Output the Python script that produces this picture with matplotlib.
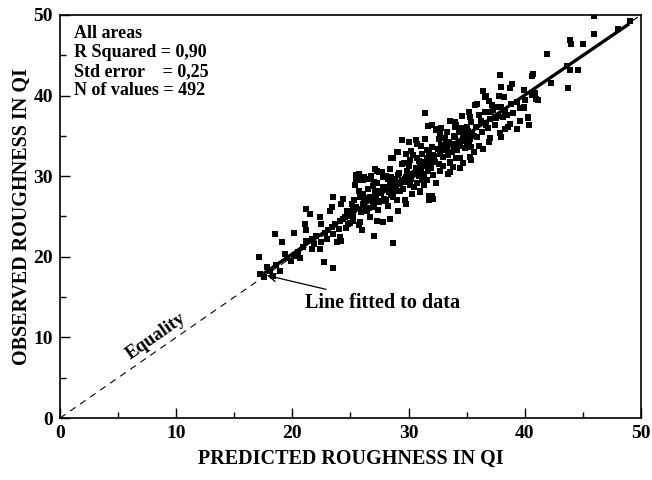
import matplotlib.pyplot as plt
from matplotlib.ticker import MultipleLocator

plt.rcParams['font.family'] = ['Liberation Serif', 'DejaVu Serif']
plt.rcParams['font.weight'] = 'bold'

# predicted / observed roughness (QI)
pred = [17.2, 17.1, 17.8, 18.1, 18.9, 18.5, 19.1, 19.4, 20.1, 19.9, 20.7, 20.1, 21.2, 21.1, 21.2,
        21.7, 21.9, 20.9, 21.7, 22.4, 22.5, 22.7, 23.5, 21.2, 21.5, 22.4, 22.5, 23.5, 23.4, 23.2,
        23.7, 23.4, 23.1, 23.5, 23.8, 18.6, 19.5, 20.5, 22.0, 22.8, 23.0, 17.6, 18.3,
        24.4, 24.2, 25.1, 25.2, 24.5, 24.1, 24.8, 24.0, 24.1, 24.2, 25.7, 26.0, 27.0, 25.7, 26.2,
        26.8, 25.8, 25.4, 25.7, 26.1, 26.5, 26.7, 27.0, 25.8, 26.2, 26.8, 26.1, 25.5, 26.4, 27.0,
        27.5, 24.7, 25.0, 24.4, 25.2, 25.8, 26.7, 27.3, 27.8, 25.5, 26.0, 26.5, 25.5, 26.1, 26.7,
        27.3, 27.7, 27.1, 27.5, 27.8, 27.3, 27.8, 25.2, 25.9, 26.3, 26.9, 27.2, 27.6, 26.6, 25.0,
        24.6, 27.9, 27.4, 26.9, 25.3,
        28.4, 28.5, 29.1, 29.7, 30.3, 30.8, 28.4, 29.0, 29.5, 30.1, 30.7, 31.3, 31.0, 32.0, 31.8,
        29.7, 29.8, 29.1, 28.1, 28.7, 28.4, 28.7, 29.4, 30.0, 30.6, 30.7, 31.1, 31.6, 32.0, 29.1,
        28.7, 29.8, 30.1, 30.7, 31.0, 31.6, 29.4, 29.8, 30.4, 28.5, 29.0, 31.6, 32.1, 31.8, 32.1,
        31.0, 31.4, 31.7, 28.3, 28.9, 29.3, 29.9, 30.2, 30.6, 31.1, 31.5, 31.9, 28.6, 29.2, 30.0,
        30.9, 31.3, 31.8, 28.2, 29.6, 30.4, 31.2, 31.9,
        32.4, 32.7, 33.3, 34.0, 34.3, 35.0, 32.1, 32.7, 33.3, 33.9, 34.4, 34.1, 33.6, 33.4, 32.7,
        32.1, 32.4, 32.0, 34.0, 34.1, 35.3, 35.4, 33.3, 33.1, 34.9, 35.0, 35.4, 35.6, 35.4, 34.4,
        34.7, 33.6, 33.8, 35.3, 35.7, 35.9, 32.5, 33.0, 33.5, 34.0, 34.6, 35.1, 35.6, 32.3, 32.8,
        33.2, 33.7, 34.2, 34.8, 35.3, 35.8, 32.6, 33.9, 34.5, 35.2, 33.0, 34.9,
        36.1, 36.6, 37.2, 37.3, 37.6, 36.4, 36.6, 36.7, 37.9, 38.9, 38.7, 38.0, 38.2, 39.9, 41.0,
        39.6, 39.9, 38.7, 38.6, 39.6, 40.4, 40.3, 39.3, 37.9, 38.0, 38.3, 36.9, 37.0, 36.1, 36.4,
        36.5, 37.0, 37.7, 38.3, 38.8, 39.3, 36.3, 36.8, 37.4, 38.1, 39.0, 40.0, 40.6, 39.9, 40.3,
        40.7, 40.6, 40.9, 41.1,
        41.9, 43.9, 44.0, 45.0, 43.6, 43.9, 44.6, 43.7, 46.0, 46.0, 49.1, 48.0, 42.3,
        26.3, 26.8, 27.1, 27.7, 28.0, 28.5, 28.8, 29.3, 29.6, 30.1, 30.5, 30.9, 31.4, 31.7, 32.2,
        32.6, 32.9, 33.4, 33.8, 34.3, 34.7, 35.0, 35.5, 35.9, 36.2, 36.7, 37.1, 37.5, 38.0, 38.5,
        27.4, 28.2, 29.0, 30.3, 31.2, 32.4, 33.6, 34.4, 27.0, 28.1, 29.4, 30.2, 31.4, 32.8, 33.6,
        34.6, 35.2, 36.9, 37.8]
obs = [17.9, 20.0, 18.7, 18.3, 18.3, 22.8, 21.8, 20.4, 20.1, 19.5, 19.9, 23.0, 23.3, 24.1, 22.0,
       22.2, 21.6, 21.2, 21.0, 21.0, 21.8, 19.3, 18.6, 25.9, 25.3, 24.9, 24.1, 27.4, 26.2, 25.7,
       24.1, 23.7, 23.3, 22.8, 21.8, 19.0, 19.8, 20.6, 22.6, 22.9, 22.2, 17.5, 17.6,
       27.2, 26.6, 26.6, 25.9, 24.9, 24.5, 24.1, 23.5, 22.4, 22.0, 23.9, 23.3, 22.6, 30.3, 29.9,
       30.0, 29.5, 28.9, 28.2, 27.8, 28.4, 27.4, 26.8, 27.4, 27.0, 27.4, 26.6, 26.2, 25.7, 26.2,
       26.8, 25.7, 25.1, 24.7, 24.5, 24.3, 24.9, 24.5, 24.3, 30.1, 29.7, 29.7, 29.5, 29.5, 29.7,
       30.7, 30.5, 30.9, 30.5, 29.9, 29.1, 28.6, 25.0, 25.6, 26.1, 26.5, 27.6, 27.9, 26.0, 24.2,
       23.6, 27.2, 28.2, 28.8, 27.1,
       30.9, 29.9, 30.1, 29.7, 30.1, 30.5, 29.1, 28.2, 28.4, 28.9, 29.1, 28.9, 28.0, 27.6, 27.0,
       27.0, 26.6, 25.7, 27.0, 27.4, 24.7, 21.7, 34.5, 34.2, 34.5, 34.0, 33.8, 33.2, 33.6, 33.0,
       32.2, 32.8, 32.0, 32.2, 31.6, 32.2, 29.5, 29.9, 30.3, 32.2, 33.0, 29.5, 30.1, 27.6, 27.2,
       28.2, 37.8, 36.2, 28.0, 28.9, 29.0, 30.6, 29.6, 31.0, 30.8, 31.2, 31.6, 28.4, 30.4, 31.3,
       31.9, 30.3, 32.9, 29.6, 31.6, 32.6, 32.8, 31.0,
       35.7, 35.3, 35.5, 36.1, 35.5, 36.1, 32.6, 32.8, 33.2, 33.6, 34.0, 32.2, 31.6, 30.3, 30.7,
       30.1, 35.9, 36.3, 36.7, 36.3, 37.3, 36.7, 35.5, 34.7, 35.5, 35.1, 33.6, 33.0, 32.0, 32.2,
       31.6, 31.8, 31.1, 32.4, 38.8, 39.0, 33.4, 32.4, 34.2, 34.8, 34.4, 35.6, 35.0, 31.8, 33.9,
       34.0, 33.0, 33.2, 35.0, 34.6, 36.1, 34.6, 35.0, 36.0, 33.9, 31.2, 33.5,
       37.6, 38.0, 38.8, 38.2, 38.6, 40.5, 39.8, 40.0, 42.6, 41.4, 40.9, 41.1, 39.8, 40.7, 39.6,
       38.4, 38.6, 36.5, 36.1, 36.9, 36.3, 37.2, 35.9, 35.3, 34.9, 35.9, 34.2, 34.7, 33.8, 33.4,
       36.6, 37.1, 37.5, 38.0, 38.9, 39.2, 35.5, 36.0, 36.4, 37.3, 37.8, 39.5, 40.1, 38.4, 37.3,
       42.7, 42.4, 40.3, 39.5,
       45.1, 46.9, 46.4, 46.4, 43.6, 43.2, 43.2, 40.9, 49.8, 47.6, 49.3, 48.2, 41.6,
       27.3, 27.1, 28.0, 26.9, 28.6, 27.7, 29.6, 28.1, 29.3, 29.9, 28.6, 30.0, 31.8, 30.6, 32.1,
       31.5, 33.2, 32.6, 34.0, 33.8, 34.9, 34.2, 35.4, 34.8, 36.8, 36.3, 37.9, 37.2, 38.6, 37.6,
       25.8, 26.3, 27.1, 27.8, 29.5, 29.2, 30.5, 31.0, 29.3, 30.0, 31.5, 33.1, 34.6, 36.0, 36.9,
       37.4, 37.9, 39.3, 40.0]

fit_x = [17.5, 49.0]
fit_y = [17.9, 48.9]
equality = [0, 50]

fig = plt.figure(figsize=(6.52, 4.80), dpi=100)
ax = fig.add_axes([0.092, 0.129, 0.891, 0.840])

ax.plot(equality, equality, color='black', lw=0.8, ls=(0, (6, 5)))
ax.plot(fit_x, fit_y, color='black', lw=2.4, solid_capstyle='butt')
ax.scatter(pred, obs, marker='s', s=13, color='black', linewidths=0, zorder=3)

ax.set_xlim(0, 50)
ax.set_ylim(0, 50)
ax.xaxis.set_major_locator(MultipleLocator(10))
ax.xaxis.set_minor_locator(MultipleLocator(5))
ax.yaxis.set_major_locator(MultipleLocator(10))
ax.yaxis.set_minor_locator(MultipleLocator(5))
ax.tick_params(which='both', direction='in', top=False, right=False, labelsize=14, width=1)
ax.tick_params(which='major', length=7, pad=5)
ax.tick_params(which='minor', length=4)
for s in ax.spines.values():
    s.set_linewidth(1.2)

ax.set_xlabel('PREDICTED ROUGHNESS IN QI', fontsize=14.5, fontweight='bold', labelpad=5)
ax.set_ylabel('OBSERVED ROUGHNESS IN QI', fontsize=14.5, fontweight='bold', labelpad=1)

box = ['All areas', 'R Squared = 0,90', 'Std error    = 0,25', 'N of values = 492']
for i, line in enumerate(box):
    ax.text(0.024, 0.953 - i * 0.047, line, transform=ax.transAxes, fontsize=13,
            fontweight='bold', va='center', ha='left')

ax.text(8.3, 10.1, 'Equality', rotation=35, fontsize=13.5, fontweight='bold',
        ha='center', va='center', rotation_mode='anchor')
ax.annotate('Line fitted to data', xy=(17.8, 17.7), xytext=(21.1, 14.3),
            fontsize=14.5, fontweight='bold', va='center', ha='left',
            arrowprops=dict(arrowstyle='->', color='black', lw=0.9,
                            shrinkA=2, shrinkB=0))

fig.savefig('out.png', dpi=100)
